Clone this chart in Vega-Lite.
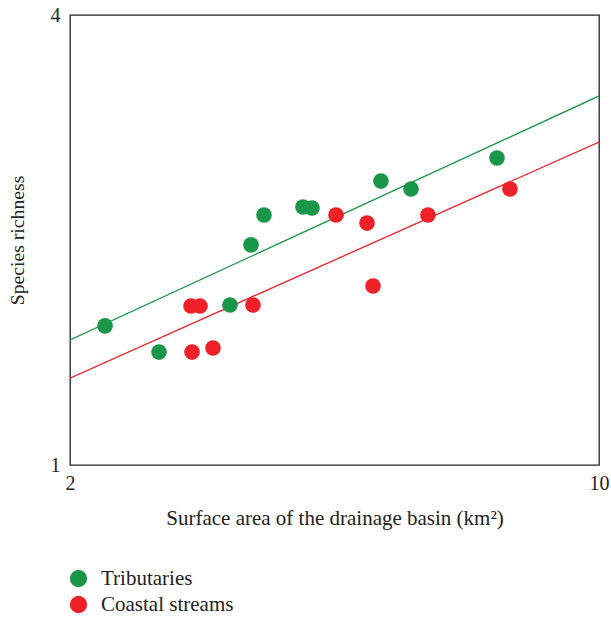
{
  "$schema": "https://vega.github.io/schema/vega-lite/v6.json",
  "autosize": {"type": "none"},
  "padding": {"left": 70, "top": 15, "right": 12, "bottom": 152},
  "width": 529,
  "height": 450,
  "background": "white",
  "config": {
    "view": {"stroke": "#222", "strokeWidth": 1.3},
    "font": "Liberation Serif",
    "axis": {"domain": false, "ticks": false, "grid": false, "labelFont": "Liberation Serif", "titleFont": "Liberation Serif", "labelColor": "#222", "titleColor": "#222", "labelFontSize": 20, "titleFontWeight": "normal"},
    "legend": {"labelFont": "Liberation Serif", "labelFontSize": 21, "labelColor": "#222", "padding": 0}
  },
  "datasets": {
    "obs": [
      {"group": "Tributaries", "area": 2.225, "richness": 1.535},
      {"group": "Tributaries", "area": 2.622, "richness": 1.416},
      {"group": "Tributaries", "area": 3.254, "richness": 1.637},
      {"group": "Tributaries", "area": 3.469, "richness": 1.97},
      {"group": "Tributaries", "area": 3.609, "richness": 2.16},
      {"group": "Tributaries", "area": 4.063, "richness": 2.214},
      {"group": "Tributaries", "area": 4.176, "richness": 2.207},
      {"group": "Tributaries", "area": 5.151, "richness": 2.398},
      {"group": "Tributaries", "area": 5.644, "richness": 2.34},
      {"group": "Tributaries", "area": 7.332, "richness": 2.575},
      {"group": "Coastal streams", "area": 2.89, "richness": 1.632},
      {"group": "Coastal streams", "area": 2.97, "richness": 1.632},
      {"group": "Coastal streams", "area": 2.899, "richness": 1.416},
      {"group": "Coastal streams", "area": 3.09, "richness": 1.434},
      {"group": "Coastal streams", "area": 3.49, "richness": 1.637},
      {"group": "Coastal streams", "area": 4.493, "richness": 2.16},
      {"group": "Coastal streams", "area": 4.937, "richness": 2.107},
      {"group": "Coastal streams", "area": 5.028, "richness": 1.736},
      {"group": "Coastal streams", "area": 5.943, "richness": 2.16},
      {"group": "Coastal streams", "area": 7.628, "richness": 2.34}
    ],
    "fit": [
      {"group": "Tributaries", "area": 2, "richness": 1.47},
      {"group": "Tributaries", "area": 10, "richness": 3.117},
      {"group": "Coastal streams", "area": 2, "richness": 1.307},
      {"group": "Coastal streams", "area": 10, "richness": 2.705}
    ]
  },
  "encoding": {
    "x": {"field": "area", "type": "quantitative", "scale": {"type": "log", "domain": [2, 10], "nice": false},
      "axis": {"values": [2, 10], "title": "Surface area of the drainage basin (km²)", "titleFontSize": 21, "labelPadding": 8, "titlePadding": 14, "labelFlush": false}},
    "y": {"field": "richness", "type": "quantitative", "scale": {"type": "log", "domain": [1, 4], "nice": false},
      "axis": {"values": [1, 4], "title": "Species richness", "titleFontSize": 19.7, "labelPadding": 10, "titlePadding": 23, "labelFlush": false}}
  },
  "layer": [
    {
      "data": {"name": "fit"},
      "transform": [{"filter": "datum.group === 'Tributaries'"}],
      "mark": {"type": "line", "strokeWidth": 1.3, "color": "#1a9648", "clip": true}
    },
    {
      "data": {"name": "fit"},
      "transform": [{"filter": "datum.group === 'Coastal streams'"}],
      "mark": {"type": "line", "strokeWidth": 1.3, "color": "#ee2028", "clip": true}
    },
    {
      "data": {"name": "obs"},
      "mark": {"type": "point", "filled": true, "shape": "circle", "size": 245, "opacity": 1},
      "encoding": {
        "color": {"field": "group", "type": "nominal", "sort": ["Tributaries", "Coastal streams"], "scale": {"domain": ["Tributaries", "Coastal streams"], "range": ["#1a9648", "#ee2028"]},
          "legend": {"title": null, "orient": "none", "legendX": -2, "legendY": 553, "symbolSize": 300, "symbolType": "circle", "rowPadding": 4, "labelOffset": 12, "symbolOpacity": 1}}
      }
    }
  ]
}
